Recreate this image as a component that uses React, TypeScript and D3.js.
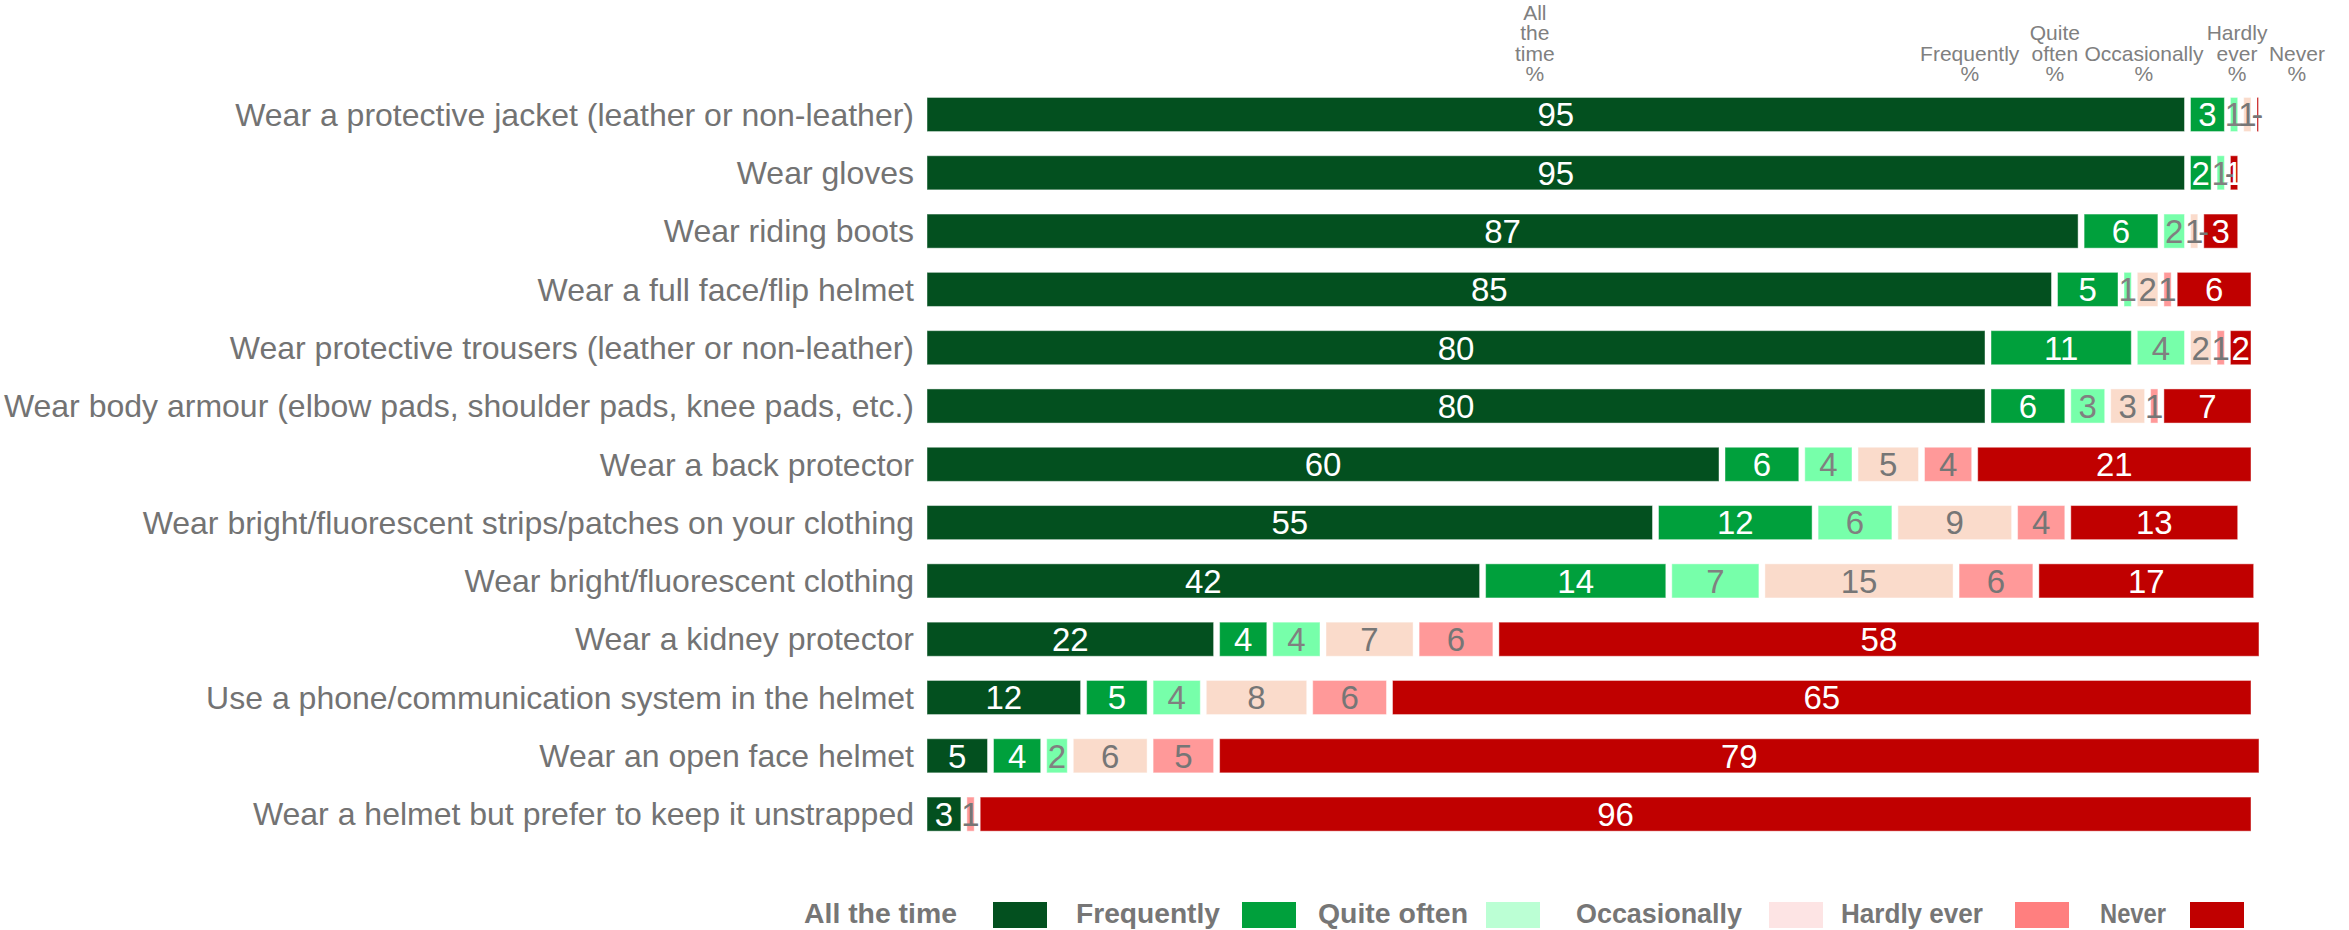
import React, { useEffect, useRef } from "react";
import * as d3 from "d3";

const categories = [
  "Wear a protective jacket (leather or non-leather)",
  "Wear gloves",
  "Wear riding boots",
  "Wear a full face/flip helmet",
  "Wear protective trousers (leather or non-leather)",
  "Wear body armour (elbow pads, shoulder pads, knee pads, etc.)",
  "Wear a back protector",
  "Wear bright/fluorescent strips/patches on your clothing",
  "Wear bright/fluorescent clothing",
  "Wear a kidney protector",
  "Use a phone/communication system in the helmet",
  "Wear an open face helmet",
  "Wear a helmet but prefer to keep it unstrapped",
];

const seriesNames = ["All the time", "Frequently", "Quite often", "Occasionally", "Hardly ever", "Never"];

const allTheTime: (number | null)[] = [95, 95, 87, 85, 80, 80, 60, 55, 42, 22, 12, 5, 3];
const frequently: (number | null)[] = [3, 2, 6, 5, 11, 6, 6, 12, 14, 4, 5, 4, null];
const quiteOften: (number | null)[] = [1, 1, 2, 1, 4, 3, 4, 6, 7, 4, 4, 2, null];
const occasionally: (number | null)[] = [1, 0, 1, 2, 2, 3, 5, 9, 14.6, 7, 8, 6, null];
const hardlyEver: (number | null)[] = [0, 0, 0, 1, 1, 1, 4, 4, 6, 6, 6, 5, 1];
const never: (number | null)[] = [0.2, 1, 3, 6, 2, 7, 21, 13, 16.6, 57.6, 65, 78.6, 96];

const headerLines = [
  ["All", "the", "time", "%"],
  ["Frequently", "%"],
  ["Quite", "often", "%"],
  ["Occasionally", "%"],
  ["Hardly", "ever", "%"],
  ["Never", "%"],
];

// layout (not data)
const headerAt = [45.7, 78.4, 84.8, 91.5, 98.5, 103];
const legendTextX = [804, 1076, 1318, 1576, 1841, 2100];
const legendTextW = [153, 144, 150, 166, 142, 66];
const legendSwatchX = [993, 1242, 1486, 1769, 2015, 2190];
const barColors = ["#03501f", "#00a03c", "#77ffaa", "#fadbcb", "#ff9999", "#c00000"];
const legendColors = ["#03501f", "#00a03c", "#bbffd4", "#fde4e4", "#ff7f7f", "#c00000"];
const labelColors = ["#ffffff", "#ffffff", "#808080", "#767676", "#767676", "#ffffff"];

const W = 2349;
const H = 930;

export default function App() {
  const ref = useRef<SVGSVGElement | null>(null);

  useEffect(() => {
    const svg = d3.select(ref.current);
    svg.selectAll("*").remove();
    const series = [allTheTime, frequently, quiteOften, occasionally, hardlyEver, never];
    const font = "'Liberation Sans', Arial, sans-serif";
    const textGrey = "#737373";

    const x = d3.scaleLinear().domain([0, 100]).range([927, 2257]);
    const y = d3
      .scaleBand<string>()
      .domain(categories)
      .range([114.5 - 29.15, 114.5 + 58.3 * 12 + 29.15])
      .paddingInner(0.415)
      .paddingOuter(0.2075);
    const gap = 6;

    // category labels
    svg
      .append("g")
      .selectAll("text")
      .data(categories)
      .join("text")
      .attr("x", 914)
      .attr("y", (d) => (y(d) as number) + y.bandwidth() / 2)
      .attr("dy", "0.35em")
      .attr("text-anchor", "end")
      .attr("font-family", font)
      .attr("font-size", 32)
      .attr("fill", textGrey)
      .text((d) => d);

    // bars
    const barsG = svg.append("g");
    const labelsG = svg.append("g");
    categories.forEach((cat, i) => {
      let cum = 0;
      series.forEach((s, k) => {
        const v = s[i];
        if (v === null || v === undefined) return;
        const x0 = x(cum);
        const x1 = x(cum + v);
        cum += v;
        let w = x1 - x0 - gap;
        if (v > 0 && w < 1.5) w = 1.5;
        if (w < 0) w = 0;
        const yTop = y(cat) as number;
        if (w > 0) {
          barsG
            .append("rect")
            .attr("x", x0)
            .attr("y", yTop)
            .attr("width", w)
            .attr("height", y.bandwidth())
            .attr("fill", barColors[k])
            .attr("stroke", "rgba(255,255,255,0.45)")
            .attr("stroke-width", 1);
        }
        const label = v < 0.5 ? "-" : String(Math.round(v));
        labelsG
          .append("text")
          .attr("x", x0 + w / 2)
          .attr("y", yTop + y.bandwidth() / 2)
          .attr("dy", "0.36em")
          .attr("text-anchor", "middle")
          .attr("font-family", font)
          .attr("font-size", 33)
          .attr("fill", label === "-" ? "#767676" : labelColors[k])
          .text(label);
      });
    });

    // column headers
    const hg = svg.append("g");
    headerLines.forEach((lines, k) => {
      const n = lines.length;
      lines.forEach((ln, j) => {
        hg.append("text")
          .attr("x", x(headerAt[k]))
          .attr("y", 81 - (n - 1 - j) * 20.3)
          .attr("text-anchor", "middle")
          .attr("font-family", font)
          .attr("font-size", 21)
          .attr("fill", "#808080")
          .text(ln);
      });
    });

    // legend
    const lg = svg.append("g");
    seriesNames.forEach((name, k) => {
      lg.append("text")
        .attr("x", legendTextX[k])
        .attr("y", 922.5)
        .attr("font-family", font)
        .attr("font-weight", "bold")
        .attr("font-size", 28)
        .attr("fill", "#767676")
        .attr("textLength", legendTextW[k])
        .attr("lengthAdjust", "spacingAndGlyphs")
        .text(name);
      lg.append("rect")
        .attr("x", legendSwatchX[k])
        .attr("y", 902)
        .attr("width", 54)
        .attr("height", 26)
        .attr("fill", legendColors[k]);
    });
  }, []);

  return (
    <svg
      ref={ref}
      width={W}
      height={H}
      style={{ position: "absolute", left: 0, top: 0, background: "#ffffff" }}
    />
  );
}
